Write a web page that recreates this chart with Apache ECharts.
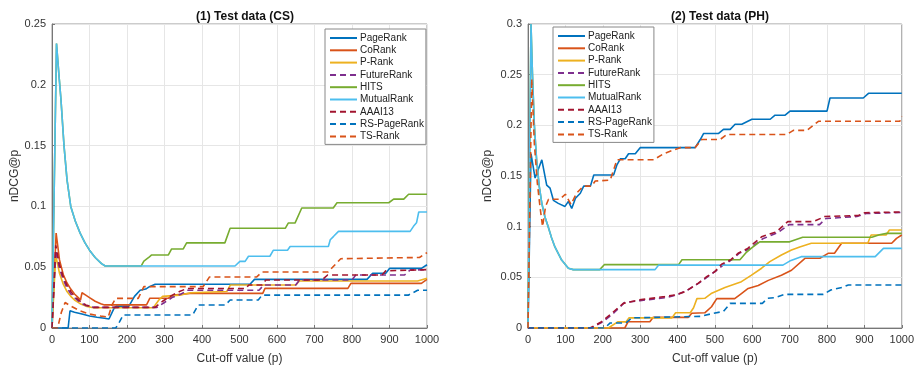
<!DOCTYPE html>
<html>
<head>
<meta charset="utf-8">
<script src="https://cdn.jsdelivr.net/npm/echarts@6/dist/echarts.min.js"></script>
<style>
  html, body { margin: 0; padding: 0; background: #fff; }
  #chart { width: 917px; height: 370px; }
</style>
</head>
<body>
<div id="chart"></div>
<script>
// legend / series names
const methodNames = ['PageRank', 'CoRank', 'P-Rank', 'FutureRank', 'HITS', 'MutualRank', 'AAAI13', 'RS-PageRank', 'TS-Rank'];

// (1) Test data (CS) -- [p, nDCG@p]
const csPageRank = [[0,0],[43,0],[48,0.0142],[60,0.013],[80,0.0115],[100,0.0098],[120,0.0088],[140,0.008],[152,0.0074],[165,0.016],[172,0.018],[205,0.018],[220,0.026],[235,0.031],[250,0.032],[260,0.034],[275,0.036],[528,0.036],[540,0.040],[840,0.040],[855,0.045],[890,0.045],[900,0.049],[985,0.049],[1000,0.052]];
const csCoRank = [[0,0],[11,0.078],[20,0.056],[30,0.044],[40,0.037],[50,0.032],[60,0.028],[70,0.025],[76,0.023],[80,0.029],[90,0.027],[100,0.025],[115,0.022],[130,0.020],[140,0.019],[252,0.019],[261,0.0245],[310,0.0245],[325,0.027],[368,0.0285],[562,0.0285],[568,0.0326],[789,0.0326],[797,0.0367],[985,0.0367],[1000,0.040]];
const csPRank = [[0,0],[10,0.060],[20,0.045],[30,0.036],[40,0.030],[50,0.026],[60,0.023],[75,0.020],[90,0.018],[110,0.0167],[270,0.0167],[285,0.023],[295,0.026],[340,0.027],[370,0.029],[466,0.030],[476,0.0354],[650,0.0354],[660,0.0386],[975,0.0386],[1000,0.041]];
const csFutureRank = [[0,0],[10,0.064],[20,0.049],[30,0.040],[40,0.033],[50,0.028],[60,0.025],[75,0.021],[90,0.0185],[110,0.017],[280,0.017],[300,0.021],[320,0.025],[345,0.028],[360,0.031],[552,0.031],[565,0.0354],[650,0.0354],[660,0.0395],[800,0.0395],[810,0.0436],[940,0.0436],[955,0.0477],[1000,0.048]];
const csHITS = [[0,0],[12,0.234],[18,0.21],[24,0.1875],[32,0.15],[40,0.122],[50,0.1],[62,0.088],[75,0.078],[88,0.07],[100,0.064],[115,0.058],[132,0.053],[142,0.051],[238,0.051],[245,0.055],[258,0.058],[265,0.060],[310,0.060],[319,0.065],[350,0.065],[359,0.070],[461,0.070],[475,0.082],[622,0.082],[630,0.0863],[648,0.0863],[666,0.0987],[750,0.0987],[760,0.103],[898,0.103],[911,0.106],[938,0.106],[951,0.110],[1000,0.110]];
const csMutualRank = [[0,0],[12,0.234],[18,0.21],[24,0.1875],[32,0.15],[40,0.122],[50,0.1],[62,0.088],[75,0.078],[88,0.07],[100,0.064],[115,0.058],[132,0.053],[142,0.051],[488,0.051],[501,0.0548],[515,0.0548],[524,0.059],[581,0.059],[590,0.0639],[628,0.0639],[635,0.067],[737,0.067],[742,0.0726],[751,0.0754],[764,0.0795],[955,0.0795],[964,0.0836],[972,0.0865],[978,0.0954],[1000,0.0954]];
const csAAAI13 = [[0,0],[10,0.068],[20,0.052],[30,0.042],[40,0.035],[50,0.030],[60,0.026],[75,0.022],[90,0.019],[110,0.017],[275,0.017],[295,0.022],[315,0.026],[340,0.030],[360,0.0325],[516,0.0325],[525,0.0354],[560,0.0354],[570,0.0395],[720,0.0395],[735,0.0436],[880,0.0436],[890,0.047],[1000,0.048]];
const csRSPageRank = [[0,0],[170,0],[180,0.005],[190,0.0107],[375,0.0107],[390,0.0189],[462,0.0189],[475,0.023],[550,0.023],[560,0.027],[950,0.027],[975,0.031],[1000,0.031]];
const csTSRank = [[0,0],[15,0],[25,0.013],[35,0.021],[50,0.018],[75,0.014],[100,0.0115],[130,0.0098],[150,0.009],[160,0.019],[170,0.0244],[230,0.0244],[245,0.034],[403,0.034],[420,0.042],[546,0.042],[560,0.046],[736,0.046],[770,0.057],[980,0.058],[1000,0.062]];

// (2) Test data (PH) -- [p, nDCG@p]
const phPageRank = [[0,0],[8,0.172],[19,0.148],[37,0.166],[50,0.141],[59,0.138],[68,0.126],[81,0.123],[99,0.12],[108,0.125],[117,0.118],[127,0.128],[140,0.133],[149,0.14],[167,0.14],[176,0.151],[229,0.151],[238,0.161],[247,0.167],[260,0.167],[269,0.172],[287,0.172],[300,0.178],[447,0.178],[461,0.186],[470,0.192],[510,0.192],[523,0.196],[541,0.196],[554,0.201],[572,0.201],[599,0.206],[648,0.206],[661,0.21],[688,0.21],[701,0.214],[800,0.214],[808,0.227],[897,0.227],[911,0.2316],[1000,0.2316]];
const phCoRank = [[0,0],[259,0],[268,0.0062],[326,0.0062],[335,0.0105],[429,0.0105],[438,0.0145],[473,0.015],[491,0.021],[505,0.029],[553,0.029],[571,0.034],[589,0.039],[616,0.042],[643,0.047],[678,0.052],[705,0.057],[741,0.0688],[781,0.0688],[803,0.0737],[820,0.0737],[839,0.0836],[973,0.0836],[986,0.0885],[1000,0.0918]];
const phPRank = [[0,0],[215,0],[240,0.006],[262,0.006],[270,0.01],[385,0.01],[395,0.015],[434,0.015],[443,0.02],[452,0.029],[473,0.0293],[490,0.034],[527,0.040],[571,0.0457],[597,0.052],[625,0.059],[647,0.0655],[678,0.072],[705,0.077],[727,0.080],[758,0.0836],[909,0.0836],[918,0.0918],[958,0.0918],[967,0.0967],[1000,0.0967]];
const phFutureRank = [[0,0],[170,0],[200,0.006],[230,0.015],[258,0.025],[300,0.027],[370,0.030],[400,0.033],[425,0.037],[460,0.045],[482,0.051],[505,0.057],[522,0.062],[548,0.068],[566,0.074],[592,0.078],[628,0.088],[668,0.094],[698,0.102],[780,0.102],[797,0.108],[880,0.110],[905,0.113],[1000,0.114]];
const phHITS = [[0,0],[8,0.30],[12,0.25],[17,0.2],[23,0.166],[30,0.14],[37,0.123],[45,0.11],[54,0.1],[63,0.089],[72,0.08],[90,0.067],[108,0.059],[121,0.0576],[192,0.0576],[204,0.0625],[403,0.0625],[412,0.0674],[567,0.0674],[585,0.075],[602,0.080],[620,0.085],[700,0.085],[735,0.0895],[920,0.0895],[940,0.092],[960,0.0934],[1000,0.0934]];
const phMutualRank = [[0,0],[8,0.30],[12,0.25],[17,0.2],[23,0.166],[30,0.14],[37,0.123],[45,0.11],[54,0.1],[63,0.089],[72,0.08],[90,0.067],[108,0.059],[121,0.0576],[340,0.0576],[349,0.062],[682,0.062],[700,0.066],[731,0.0704],[929,0.0704],[951,0.0786],[1000,0.0786]];
const phAAAI13 = [[0,0],[166,0],[197,0.0062],[224,0.0145],[255,0.0243],[295,0.0276],[366,0.031],[393,0.0326],[420,0.0358],[455,0.044],[478,0.0506],[500,0.0556],[518,0.063],[543,0.0674],[562,0.0737],[588,0.0786],[625,0.09],[665,0.095],[695,0.105],[764,0.105],[794,0.11],[884,0.111],[901,0.1138],[1000,0.1145]];
const phRSPageRank = [[0,0],[205,0],[220,0.005],[262,0.005],[278,0.01],[461,0.0115],[490,0.014],[523,0.0164],[541,0.0243],[627,0.0243],[641,0.0293],[661,0.030],[687,0.0332],[790,0.0332],[810,0.0375],[840,0.040],[857,0.0424],[1000,0.0424]];
const phTSRank = [[0,0],[10,0.246],[17,0.182],[25,0.143],[32,0.12],[39,0.10],[47,0.12],[55,0.127],[85,0.127],[100,0.132],[115,0.122],[130,0.133],[148,0.14],[170,0.14],[180,0.145],[220,0.146],[238,0.166],[336,0.166],[363,0.172],[407,0.178],[447,0.178],[465,0.186],[514,0.186],[532,0.191],[692,0.191],[710,0.195],[746,0.195],[777,0.204],[995,0.204],[1000,0.209]];

const csData = [csPageRank, csCoRank, csPRank, csFutureRank, csHITS, csMutualRank, csAAAI13, csRSPageRank, csTSRank];
const phData = [phPageRank, phCoRank, phPRank, phFutureRank, phHITS, phMutualRank, phAAAI13, phRSPageRank, phTSRank];

const colors = ['#0072BD', '#D95319', '#EDB120', '#7E2F8E', '#77AC30', '#4DBEEE', '#A2142F', '#0072BD', '#D95319'];
const dashed = [false, false, false, true, false, false, true, true, true];
const font = 'Liberation Sans, Arial, Helvetica, sans-serif';

const chart = echarts.init(document.getElementById('chart'), null, { renderer: 'canvas' });

function makeSeries(data, idx) {
  return data.map((d, i) => ({
    name: methodNames[i],
    type: 'line',
    xAxisIndex: idx,
    yAxisIndex: idx,
    data: d,
    symbol: 'none',
    showSymbol: false,
    clip: true,
    color: colors[i],
    lineStyle: {
      color: colors[i],
      width: 1.6,
      type: dashed[i] ? [6, 4] : 'solid'
    },
    emphasis: { disabled: true }
  }));
}

function xAxisOf(idx) {
  return {
    gridIndex: idx,
    type: 'value',
    min: 0,
    max: 1000,
    interval: 100,
    name: 'Cut-off value (p)',
    nameLocation: 'middle',
    nameGap: 25,
    nameTextStyle: { fontFamily: font, fontSize: 12, color: '#333' },
    axisLine: { lineStyle: { color: '#777' } },
    axisTick: { inside: true, length: 3, lineStyle: { color: '#777' } },
    axisLabel: { fontFamily: font, fontSize: 11, color: '#333', margin: 6, formatter: v => String(v) },
    splitLine: { lineStyle: { color: '#e6e6e6' } }
  };
}

function yAxisOf(idx, max, gap) {
  return {
    gridIndex: idx,
    type: 'value',
    min: 0,
    max: max,
    interval: 0.05,
    name: 'nDCG@p',
    nameLocation: 'middle',
    nameGap: gap,
    nameRotate: 90,
    nameTextStyle: { fontFamily: font, fontSize: 12, color: '#333' },
    axisLine: { show: true, lineStyle: { color: '#777' } },
    axisTick: { show: true, inside: true, length: 3, lineStyle: { color: '#777' } },
    axisLabel: { fontFamily: font, fontSize: 11, color: '#333', margin: 6 },
    splitLine: { lineStyle: { color: '#e6e6e6' } }
  };
}

function legendOf(left, top) {
  return {
    orient: 'vertical',
    left: left,
    top: top,
    data: methodNames,
    backgroundColor: '#fff',
    borderColor: '#888',
    borderWidth: 1,
    padding: [4, 2, 3, 4],
    itemWidth: 27,
    itemHeight: 9,
    itemGap: 2.3,
    selectedMode: false,
    itemStyle: { opacity: 0 },
    textStyle: { fontFamily: font, fontSize: 10, color: '#222', padding: [0, 0, 0, -2] }
  };
}

const option = {
  backgroundColor: '#fff',
  animation: false,
  title: [
    {
      text: '(1) Test data (CS)',
      left: 240,
      top: 6,
      textAlign: 'center',
      textStyle: { fontFamily: font, fontSize: 12, fontWeight: 'bold', color: '#111' }
    },
    {
      text: '(2) Test data (PH)',
      left: 715,
      top: 6,
      textAlign: 'center',
      textStyle: { fontFamily: font, fontSize: 12, fontWeight: 'bold', color: '#111' }
    }
  ],
  legend: [legendOf(325, 29), legendOf(553, 27)],
  grid: [
    { left: 52, right: 490, top: 24, bottom: 42, show: true, borderColor: '#999', borderWidth: 1 },
    { left: 528, right: 15, top: 24, bottom: 42, show: true, borderColor: '#999', borderWidth: 1 }
  ],
  xAxis: [xAxisOf(0), xAxisOf(1)],
  yAxis: [yAxisOf(0, 0.25, 31), yAxisOf(1, 0.3, 34)],
  series: makeSeries(csData, 0).concat(makeSeries(phData, 1))
};

chart.setOption(option);
</script>
</body>
</html>
